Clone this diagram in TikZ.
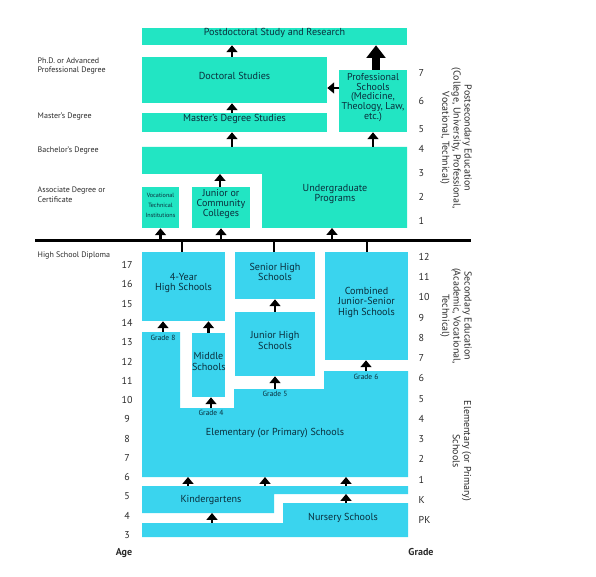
\documentclass[tikz,border=0pt]{standalone}
\usepackage{fontspec}
\setmainfont{PT Sans}
\usetikzlibrary{fit,arrows.meta}
\definecolor{tealA}{HTML}{22E5C3}
\definecolor{cyanA}{HTML}{3AD4EE}
\definecolor{ink}{HTML}{0A2E3C}
\definecolor{gray1}{HTML}{2A2A2A}
\begin{document}
\begin{tikzpicture}[x=0.75pt,y=-0.75pt,
  boxfont/.style={font=\fontsize{7.6}{8}\selectfont},
  tbox/.style={fill=tealA, inner sep=0pt, text=ink, align=center, boxfont},
  cbox/.style={fill=cyanA, inner sep=0pt, text=ink, align=center, boxfont},
  lbl/.style={text=ink, align=center, boxfont},
  small/.style={text=ink, font=\fontsize{5.6}{6}\selectfont},
  leftlbl/.style={anchor=west, align=left, text=gray1, font=\fontsize{6}{7.2}\selectfont},
  num/.style={text=gray1, font=\fontsize{7.5}{8}\selectfont},
  side/.style={rotate=-90, align=center, text=gray1, font=\fontsize{7.5}{8.3}\selectfont},
  arr/.style={-{Triangle[width=8.2pt,length=5.2pt]}, line width=2.2pt},
  bigarr/.style={-{Triangle[width=14pt,length=9.5pt]}, line width=6pt},
  tick/.style={line width=1pt}]
\useasboundingbox (0,0) rectangle (596,577);

% ---------- Postsecondary ----------
\node[tbox, fit={(142,28) (407,45)}] (postdoc) {Postdoctoral Study and Research};
\node[tbox, fit={(142,57) (327,103)}] (doct) {Doctoral Studies};
\node[tbox, fit={(142,113) (327,132)}] (master) {Master's Degree Studies};
\node[tbox, fit={(339,70) (407,132)}, font=\fontsize{7.5}{7.2}\selectfont] (prof) {Professional\\Schools\\(Medicine,\\Theology, Law,\\etc.)};
\fill[tealA] (142,147) -- (407,147) -- (407,228) -- (262,228) -- (262,174) -- (142,174) -- cycle;
\node[lbl] (ugtext) at (335,194) {Undergraduate\\Programs};
\coordinate (ugM) at (232,147);
\coordinate (ugP) at (373,147);
\coordinate (ugJ) at (220,174);
\coordinate (ugB) at (332,228);
\coordinate (profL) at (339,88);
\coordinate (profT) at (376,70);
\node[tbox, fit={(142,187) (179,228)}, font=\fontsize{4.6}{7.5}\selectfont] (voc) {Vocational\\Technical\\Institutions};
\node[tbox, fit={(192,187) (250,228)}, font=\fontsize{7.5}{7.5}\selectfont] (jc) {Junior or\\Community\\Colleges};

\draw[arr] (doct.north -| ugM) -- (postdoc.south -| ugM);
\draw[arr] (master.north -| ugM) -- (doct.south -| ugM);
\draw[arr] (ugM) -- (ugM |- master.south);
\draw[arr] (ugP) -- (ugP |- prof.south);
\draw[arr] (jc.north -| ugJ) -- (ugJ);
\draw[bigarr] (profT) -- (profT |- postdoc.south);
\draw[arr] (profL) -- (profL -| doct.east);

% ---------- Diploma line ----------
\coordinate (lineL) at (35,240.5);
\coordinate (lineR) at (471,240.5);
\draw[line width=2.2pt] (lineL) -- (lineR);
\draw[arr] (voc.south |- lineL) -- (voc.south);
\draw[arr] (jc.south |- lineL) -- (jc.south);
\draw[arr] (ugB |- lineL) -- (ugB);

% ---------- Secondary ----------
\node[cbox, fit={(142,252) (225,321)}] (hs4) {4-Year\\High Schools};
\node[cbox, fit={(235,252) (315,299)}] (shs) {Senior High\\Schools};
\node[cbox, fit={(235,312) (315,376)}] (jhs) {Junior High\\Schools};
\node[cbox, fit={(325,252) (408,360)}] (cjs) {Combined\\Junior-Senior\\High Schools};
\node[cbox, fit={(192,333) (225,397)}] (ms) {Middle\\Schools};
\draw[tick] (lineL -| 182,0) -- (hs4.north -| 182,0);
\draw[tick] (lineL -| 274,0) -- (shs.north -| 274,0);
\draw[tick] (lineL -| 367,0) -- (cjs.north -| 367,0);

% ---------- Elementary ----------
\fill[cyanA] (142,332) -- (180,332) -- (180,408) -- (234,408) -- (234,389) -- (324,389) -- (324,371) -- (408,371) -- (408,477) -- (142,477) -- cycle;
\node[lbl] (elem) at (275,433) {Elementary (or Primary) Schools};
\fill[cyanA] (142,486) -- (408,486) -- (408,494) -- (274,494) -- (274,513) -- (142,513) -- cycle;
\node[lbl] (kind) at (211,500) {Kindergartens};
\fill[cyanA] (283,503) -- (408,503) -- (408,537) -- (142,537) -- (142,523) -- (283,523) -- cycle;
\node[lbl] (nurs) at (343,518) {Nursery Schools};

\node[small] (g8) at (163,338) {Grade 8};
\node[small] (g4) at (211,413) {Grade 4};
\node[small] (g5) at (275,394) {Grade 5};
\node[small] (g6) at (366,377) {Grade 6};

\coordinate (e8) at (163,332);
\coordinate (e4) at (211,408);
\coordinate (e5) at (275,389);
\coordinate (e6) at (366,371);
\draw[arr] (e8) -- (e8 |- hs4.south);
\draw[arr] (ms.north) -- (ms.north |- hs4.south);
\draw[arr] (jhs.north) -- (shs.south);
\draw[arr] (e4) -- (e4 |- ms.south);
\draw[arr] (e5) -- (e5 |- jhs.south);
\draw[arr] (e6) -- (e6 |- cjs.south);
\foreach \x in {188,265,346} {
  \coordinate (k\x) at (\x,486);
  \draw[arr] (k\x) -- (\x,477);
}
\coordinate (n1) at (346,503);
\coordinate (n2) at (212,523);
\draw[arr] (n1) -- (346,494);
\draw[arr] (n2) -- (212,513);

% ---------- Left labels ----------
\node[leftlbl] (phd) at (33,66) {Ph.D. or Advanced\\Professional Degree};
\node[leftlbl] (msd) at (33,117) {Master's Degree};
\node[leftlbl] (bad) at (33,151) {Bachelor's Degree};
\node[leftlbl] (asd) at (33,195) {Associate Degree or\\Certificate};
\node[leftlbl] (hsd) at (33,256) {High School Diploma};

% ---------- Ages ----------
\foreach \a [count=\i from 0] in {17,16,...,3}
  \node[num] (age\a) at (127,{265+\i*19.29}) {\a};
\node[num, font=\fontsize{7.5}{8}\selectfont\bfseries] (agelbl) at (124,553) {Age};

% ---------- Grades ----------
\foreach \g [count=\i from 0] in {12,11,10,9,8,7,6,5,4,3,2,1,K,PK}
  \node[num, anchor=west] (gr\i) at (414,{257+\i*20.23}) {\g};
\foreach \g/\y in {7/73,6/101,5/129,4/149,3/173,2/197,1/221}
  \node[num, anchor=west] (pg\g) at (414,\y) {\g};
\node[num, font=\fontsize{7.5}{8}\selectfont\bfseries] (gradelbl) at (421,552) {Grade};

% ---------- Side labels ----------
\node[side] (side1) at (456,138) {Postsecondary Education\\(College, University, Professional,\\Vocational, Technical)};
\node[side] (side2) at (456,316) {Secondary Education\\(Academic, Vocational,\\Technical)};
\node[side] (side3) at (462,451) {Elementary (or Primary)\\Schools};
\end{tikzpicture}
\end{document}
